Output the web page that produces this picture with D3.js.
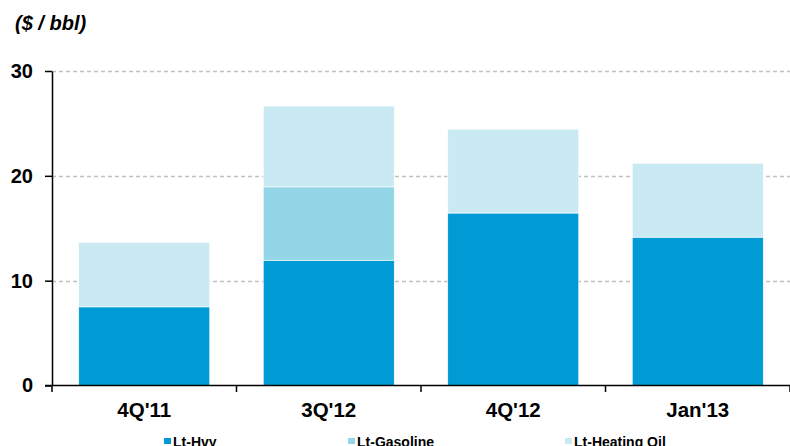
<!DOCTYPE html>
<html>
<head>
<meta charset="utf-8">
<script src="https://cdn.jsdelivr.net/npm/d3@7"></script>
<style>
  body { margin: 0; background: #fff; }
  text { font-family: "Liberation Sans", Arial, sans-serif; }
</style>
</head>
<body>
<svg id="chart" width="790" height="446"></svg>
<script>
const categories = ["4Q'11", "3Q'12", "4Q'12", "Jan'13"];
const seriesNames = ['Lt-Hvy', 'Lt-Gasoline', 'Lt-Heating Oil'];
const ltHvy = [7.5, 11.95, 16.45, 14.15];
const ltGasoline = [0, 7.0, 0, 0];
const ltHeatingOil = [6.15, 7.7, 8.0, 7.05];
const yTicks = [0, 10, 20, 30];
const colors = ['#009bd5', '#92d6e8', '#c9eaf3'];

const svg = d3.select('#chart');
const margin = { top: 71, right: 0, bottom: 61, left: 52 };
const width = +svg.attr('width');
const height = +svg.attr('height');
const innerWidth = width - margin.left - margin.right;
const innerHeight = height - margin.top - margin.bottom;

const data = categories.map((c, i) => ({
    cat: c,
    'Lt-Hvy': ltHvy[i],
    'Lt-Gasoline': ltGasoline[i],
    'Lt-Heating Oil': ltHeatingOil[i]
}));
const stacked = d3.stack().keys(seriesNames)(data);

const x = d3.scaleBand().domain(categories).range([0, innerWidth]).paddingInner(0.29).paddingOuter(0.145);
const y = d3.scaleLinear().domain([0, 30]).range([innerHeight + 0.5, 0]);
const color = d3.scaleOrdinal().domain(seriesNames).range(colors);

const g = svg.append('g').attr('transform', `translate(${margin.left},${margin.top})`);

// title
svg.append('text').attr('x', 15).attr('y', 30)
    .style('font-size', '20px').style('font-weight', 'bold').style('font-style', 'italic')
    .text('($ / bbl)');

// gridlines
g.selectAll('.grid').data(yTicks.filter(d => d > 0)).enter()
    .append('line')
    .attr('x1', 0).attr('x2', innerWidth)
    .attr('y1', d => Math.round(y(d)) + 0.5).attr('y2', d => Math.round(y(d)) + 0.5)
    .attr('stroke', '#c0c0c0').attr('stroke-width', 1.3)
    .attr('stroke-dasharray', '4,3');

// bars
g.selectAll('.layer').data(stacked).enter()
    .append('g')
    .attr('fill', d => color(d.key))
    .selectAll('rect').data(d => d.filter(p => p[1] - p[0] > 0)).enter()
    .append('rect')
    .attr('x', d => x(d.data.cat))
    .attr('width', x.bandwidth())
    .attr('y', d => y(d[1]))
    .attr('height', d => y(d[0]) - y(d[1]))
    .attr('stroke', '#fff').attr('stroke-width', 0.6);

// y axis
const yAxis = g.append('g')
    .call(d3.axisLeft(y).tickValues(yTicks).tickSize(7).tickSizeOuter(0).tickPadding(12));
yAxis.select('.domain').attr('stroke', '#000').attr('stroke-width', 1.5);
yAxis.selectAll('.tick line').attr('stroke', '#000').attr('stroke-width', 1.5);
yAxis.selectAll('.tick text').style('font-size', '20px').style('font-weight', 'bold')
    .attr('fill', '#000').style('font-family', '"Liberation Sans", Arial, sans-serif');

// x axis
const xAxisG = g.append('g').attr('transform', `translate(0,${innerHeight})`);
xAxisG.append('line').attr('x1', -7).attr('x2', innerWidth)
    .attr('y1', 0.5).attr('y2', 0.5).attr('stroke', '#000').attr('stroke-width', 1.6);
const bounds = d3.range(categories.length + 1).map(i => i * x.step());
xAxisG.selectAll('.xt').data(bounds).enter().append('line')
    .attr('x1', d => d).attr('x2', d => d).attr('y1', 0).attr('y2', 7)
    .attr('stroke', '#000').attr('stroke-width', 1.5);
xAxisG.selectAll('.xl').data(categories).enter().append('text')
    .attr('x', d => x(d) + x.bandwidth() / 2).attr('y', 32)
    .attr('text-anchor', 'middle')
    .style('font-size', '20.5px').style('font-weight', 'bold')
    .text(d => d);

// legend
const legendX = [164, 348, 565];
const legend = svg.append('g').attr('transform', 'translate(0,447)');
seriesNames.forEach((s, i) => {
    legend.append('rect').attr('x', legendX[i]).attr('y', -9).attr('width', 7).attr('height', 6)
        .attr('fill', color(s));
    legend.append('text').attr('x', legendX[i] + 9).attr('y', 0)
        .style('font-size', '14px').style('font-weight', 'bold')
        .text(s);
});
</script>
</body>
</html>
